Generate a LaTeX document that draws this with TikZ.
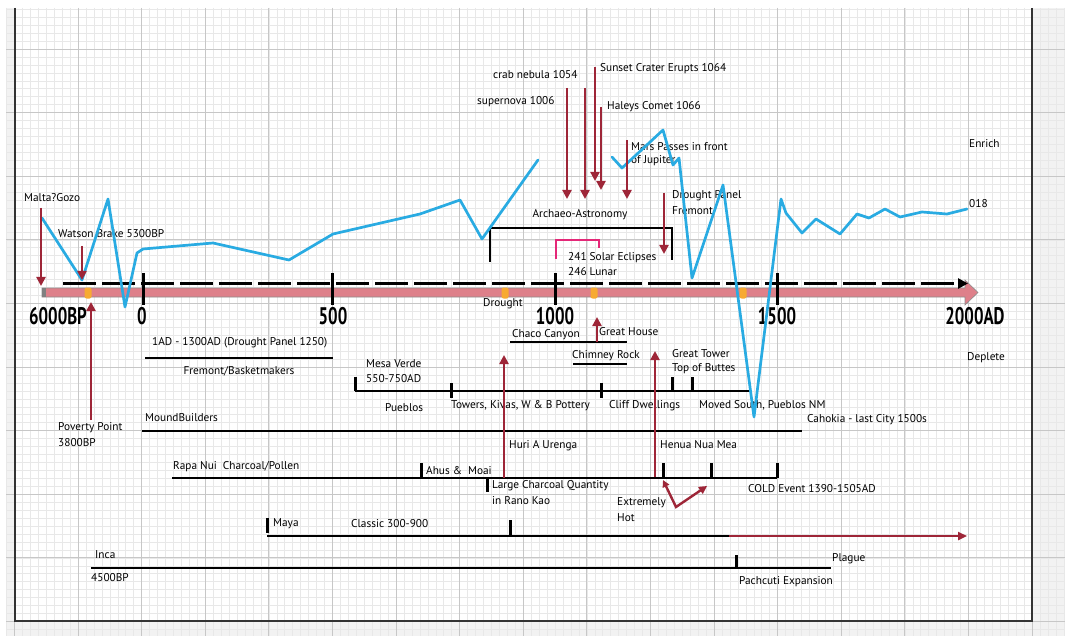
\documentclass[tikz,border=0pt]{standalone}
\usepackage{fontspec}
\setmainfont{PT Sans}
\usetikzlibrary{arrows.meta}
\definecolor{cblue}{RGB}{41,171,226}
\definecolor{cred}{RGB}{158,38,56}
\definecolor{cpink}{RGB}{222,128,138}
\definecolor{cmag}{RGB}{228,40,120}
\definecolor{corange}{RGB}{247,170,50}
\begin{document}
\begin{tikzpicture}[x=1pt,y=-1pt,
  lbl/.style={font=\fontsize{11.3}{12}\selectfont, inner sep=0pt, anchor=west, text=black},
  axl/.style={font=\fontsize{24}{24}\selectfont\bfseries, inner sep=0pt},
  gminor/.style={draw=black!9, line width=0.5pt},
  gmajor/.style={draw=black!22, line width=0.8pt},
  blueline/.style={draw=cblue, line width=2.7pt, line join=round, line cap=round},
  redarr/.style={draw=cred, line width=2.6pt, -{Triangle[width=9pt,length=9pt]}},
  tl/.style={draw=black, line width=1.7pt},
  tk/.style={draw=black, line width=3pt},
  axtick/.style={draw=black, line width=3pt},
  ormark/.style={fill=corange, rounded corners=2pt}
]
\useasboundingbox (0,0) rectangle (1065,636);
% ---------- background ----------
\fill[white] (0,0) rectangle (1065,636);
\fill[black!5] (6,8) rectangle (1065,636);
\fill[white] (15,8) rectangle (1032,621);
\foreach \i in {0,...,133} \draw[gminor] ({6.45+7.95*\i},8) -- ({6.45+7.95*\i},636);
\foreach \j in {0,...,78} \draw[gminor] (6,{9.25+7.95*\j}) -- (1065,{9.25+7.95*\j});
\foreach \i in {0,...,16} \draw[gmajor] ({14.4+63.6*\i},8) -- ({14.4+63.6*\i},636);
\foreach \j in {0,...,9} \draw[gmajor] (6,{49+63.6*\j}) -- (1065,{49+63.6*\j});
\draw[line width=1.5pt, black!80] (15,8) -- (15,621) -- (1032,621) -- (1032,8);

% ---------- labels ----------
\node[lbl] (malta) at (24,198) {Malta?Gozo};
\node[lbl] (watson) at (58,234) {Watson Brake 5300BP};
\node[lbl] (crab) at (493,75) {crab nebula 1054};
\node[lbl] (supern) at (477,102) {supernova 1006};
\node[lbl] (sunset) at (600,69) {Sunset Crater Erupts 1064};
\node[lbl] (haley) at (607,107) {Haleys Comet 1066};
\node[lbl] (mars) at (631,147) {Mars Passes in front};
\node[lbl] (jup) at (631,161) {of Jupiter};
\node[lbl] (drp) at (672,196) {Drought Panel};
\node[lbl] (frem) at (672,211) {Fremont};
\node[lbl] (enrich) at (969,144) {Enrich};
\node[lbl] (o18) at (969,204) {018};
\node[lbl,anchor=center] (archaeo) at (580,215) {Archaeo-Astronomy};
\node[lbl] (solar) at (568,258) {241 Solar Eclipses};
\node[lbl] (lunar) at (568,272) {246 Lunar};
\node[lbl] (drought) at (483,304) {Drought};
\node[lbl] (fremdate) at (152,343) {1AD - 1300AD (Drought Panel 1250)};
\node[lbl,anchor=center] (fremb) at (239,371) {Fremont/Basketmakers};
\node[lbl] (chaco) at (512,335) {Chaco Canyon};
\node[lbl] (ghouse) at (599,332) {Great House};
\node[lbl] (chimney) at (572,356) {Chimney Rock};
\node[lbl] (gtower) at (672,354) {Great Tower};
\node[lbl] (buttes) at (672,369) {Top of Buttes};
\node[lbl] (mesa) at (366,364) {Mesa Verde};
\node[lbl] (mesad) at (366,379) {550-750AD};
\node[lbl] (pueblos) at (385,408) {Pueblos};
\node[lbl] (towers) at (451,406) {Towers, Kivas, W \& B Pottery};
\node[lbl] (cliff) at (609,406) {Cliff Dwellings};
\node[lbl] (moved) at (699,405) {Moved South, Pueblos NM};
\node[lbl] (deplete) at (967,358) {Deplete};
\node[lbl] (mound) at (145,418) {MoundBuilders};
\node[lbl] (cahokia) at (807,420) {Cahokia - last City 1500s};
\node[lbl] (poverty) at (58,428) {Poverty Point};
\node[lbl] (pov2) at (58,443) {3800BP};
\node[lbl] (huri) at (509,446) {Huri A Urenga};
\node[lbl] (henua) at (660,445) {Henua Nua Mea};
\node[lbl] (rapa) at (173,467) {Rapa Nui\ \ Charcoal/Pollen};
\node[lbl] (ahus) at (426,471) {Ahus \&\ \ Moai};
\node[lbl] (charcoal) at (492,486) {Large Charcoal Quantity};
\node[lbl] (rano) at (492,501) {in Rano Kao};
\node[lbl] (cold) at (748,489) {COLD Event 1390-1505AD};
\node[lbl] (extreme) at (617,503) {Extremely};
\node[lbl] (hot) at (617,518) {Hot};
\node[lbl] (maya) at (273,524) {Maya};
\node[lbl] (classic) at (351,524) {Classic 300-900};
\node[lbl] (inca) at (95,555) {Inca};
\node[lbl] (bp4500) at (91,578) {4500BP};
\node[lbl] (plague) at (832,559) {Plague};
\node[lbl] (pach) at (739,582) {Pachcuti Expansion};

% ---------- main axis ----------
\fill[cpink, draw=black!45, line width=0.6pt] (42,288) -- (965,288) -- (965,280) -- (978,292.5) -- (965,305) -- (965,297) -- (42,297) -- cycle;
\fill[black!50] (42,288) rectangle (46,297);
\coordinate (daxA) at (63,283.5);
\coordinate (daxB) at (968,283.5);
\draw[black, line width=3pt, dash pattern=on 33pt off 6pt, -{Triangle[width=10pt,length=10pt]}] (daxA) -- (daxB);
\foreach \x/\nm in {143/t0,332/t500,555/t1000,777/t1500}{
  \coordinate (\nm a) at (\x,273);
  \coordinate (\nm b) at (\x,305);
  \draw[axtick] (\nm a) -- (\nm b);
}
\node[axl] (l6000) at (58,316) {\scalebox{0.7}[1]{6000BP}};
\node[axl] (l0) at (142,316) {\scalebox{0.7}[1]{0}};
\node[axl] (l500) at (333,316) {\scalebox{0.7}[1]{500}};
\node[axl] (l1000) at (555,316) {\scalebox{0.7}[1]{1000}};
\node[axl] (l1500) at (777,316) {\scalebox{0.7}[1]{1500}};
\node[axl] (l2000) at (975,316) {\scalebox{0.7}[1]{2000AD}};
\foreach \x/\nm in {88/m1,505/m2,594/m3,743/m4}
  \node[ormark, minimum width=7pt, minimum height=11pt, inner sep=0pt] (\nm) at (\x,293) {};

% ---------- brackets ----------
\coordinate (arA) at (490,262); \coordinate (arB) at (490,228);
\coordinate (arC) at (672,228); \coordinate (arD) at (672,260);
\draw[black, line width=2pt] (arA) -- (arB) -- (arC) -- (arD);
\coordinate (pkA) at (556,259); \coordinate (pkB) at (556,240);
\coordinate (pkC) at (599,240); \coordinate (pkD) at (599,248);
\draw[cmag, line width=2.5pt] (pkA) -- (pkB) -- (pkC) -- (pkD);

% ---------- timelines ----------
\coordinate (frA) at (145,358); \coordinate (frB) at (333,358);
\draw[tl] (frA) -- (frB);
\coordinate (chA) at (510,342); \coordinate (chB) at (627,342);
\draw[tl, line width=1.3pt] (chA) -- (chB);
\coordinate (crA) at (573,364); \coordinate (crB) at (627,364);
\draw[tl, line width=1.3pt] (crA) -- (crB);
\coordinate (puA) at (355,391); \coordinate (puB) at (750,391);
\draw[tl] (puA) -- (puB);
\foreach \x/\ya/\yb in {355/377/391,451/383/398,601/383/398,672/377/391,692/377/391}
  \draw[tk] (\x,\ya) -- (\x,\yb);
\coordinate (moA) at (142,431); \coordinate (moB) at (802,431);
\draw[tl] (moA) -- (moB);
\coordinate (raA) at (172,478); \coordinate (raB) at (777,478);
\draw[tl] (raA) -- (raB);
\foreach \x/\ya/\yb in {421/463/478,487/478/492,663/463/478,711/463/478,777/463/478}
  \draw[tk] (\x,\ya) -- (\x,\yb);
\coordinate (myA) at (267,536); \coordinate (myB) at (729,536); \coordinate (myC) at (967,536);
\draw[tl] (myA) -- (myB);
\draw[cred, line width=2.4pt, -{Triangle[width=8pt,length=9pt]}] (myB) -- (myC);
\foreach \x/\ya/\yb in {267/518/533,510/520/536}
  \draw[tk] (\x,\ya) -- (\x,\yb);
\coordinate (inA) at (91,568); \coordinate (inB) at (831,568);
\draw[tl] (inA) -- (inB);
\draw[tk] (736,555) -- (736,569);

% ---------- blue curve ----------
\draw[blueline] (42,218) -- (82,280) -- (108,199) -- (125,307) -- (137,253) -- (143,249) -- (213,243) -- (289,260) -- (333,234) -- (420,214) -- (460,200) -- (482,239) -- (538,160);
\draw[blueline] (612,157) -- (622,168) -- (663,130) -- (673,165) -- (679,158) -- (692,278) -- (723,185) -- (754,417) -- (781,199) -- (786,213) -- (802,233) -- (816,219) -- (840,234) -- (857,214) -- (869,218) -- (885,209) -- (900,217) -- (922,212) -- (947,214) -- (967,209);

% ---------- red event arrows ----------
\foreach \nm/\x/\ya/\yb in {malta/41/208/286, watson/82/246/280, super/567/88/199, crab/585/88/199, sunset/595/67/181, haley/601/107/190, mars/627/140/199, drpan/664/193/254, pov/91/420/302, ghouse/597/342/317, huri/504/478/355, henua/655/477/351}{
  \coordinate (\nm s) at (\x,\ya);
  \coordinate (\nm e) at (\x,\yb);
  \draw[redarr] (\nm s) -- (\nm e);
}
\coordinate (hotA) at (663,480); \coordinate (hotB) at (676,507); \coordinate (hotC) at (707,486);
\draw[cred, line width=2.4pt, {Triangle[width=7pt,length=7pt]}-{Triangle[width=8pt,length=8pt]}] (hotA) -- (hotB) -- (hotC);
\end{tikzpicture}
\end{document}
